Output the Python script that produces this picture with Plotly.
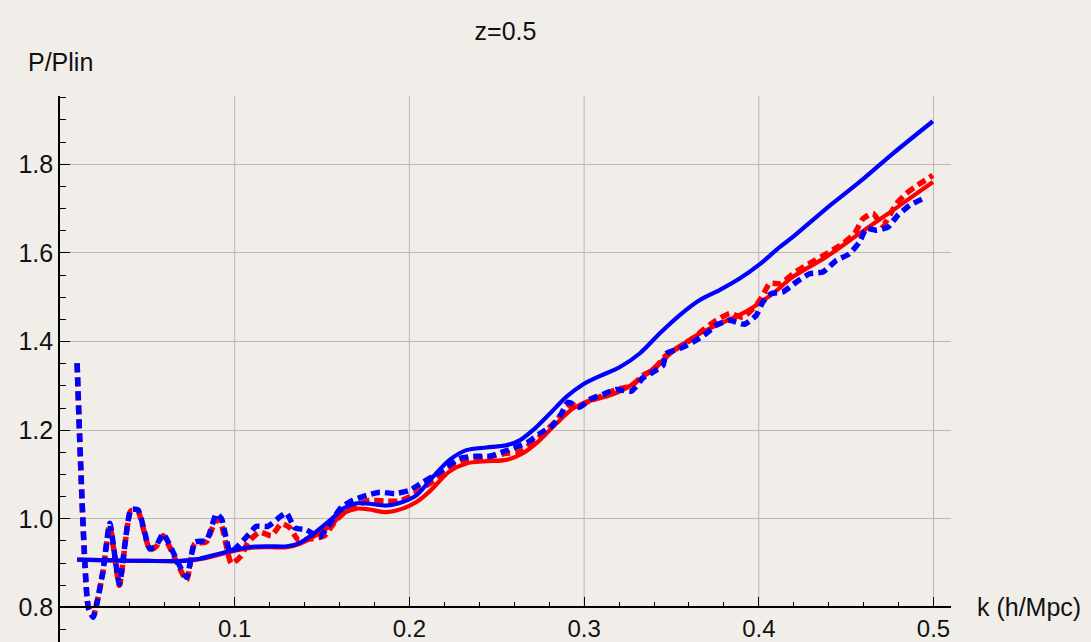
import plotly.graph_objects as go

# ---------------- data ----------------
k_blue_solid = [0.0098, 0.03, 0.05, 0.07, 0.08, 0.09, 0.10, 0.11, 0.12, 0.13, 0.137, 0.145, 0.155, 0.162,
                0.17, 0.177, 0.187, 0.196, 0.204, 0.2135, 0.223, 0.2326, 0.244, 0.2555, 0.2631, 0.2707,
                0.2803, 0.2898, 0.2993, 0.3089, 0.3203, 0.3318, 0.3432, 0.3546, 0.366, 0.3775, 0.389,
                0.4004, 0.4119, 0.4195, 0.4386, 0.4577, 0.4767, 0.4996]
v_blue_solid = [0.908, 0.906, 0.905, 0.905, 0.910, 0.920, 0.930, 0.937, 0.938, 0.938, 0.945, 0.966, 0.998, 1.023,
                1.035, 1.034, 1.030, 1.038, 1.053, 1.095, 1.133, 1.155, 1.161, 1.166, 1.177, 1.200,
                1.237, 1.275, 1.303, 1.322, 1.342, 1.373, 1.418, 1.459, 1.493, 1.516, 1.542,
                1.574, 1.613, 1.636, 1.700, 1.760, 1.824, 1.897]

k_red_solid = [0.0098, 0.03, 0.05, 0.07, 0.08, 0.09, 0.10, 0.11, 0.12, 0.13, 0.137, 0.145, 0.155, 0.162,
               0.17, 0.177, 0.187, 0.196, 0.204, 0.2116, 0.223, 0.2326, 0.244, 0.2555, 0.265, 0.2745,
               0.2841, 0.2936, 0.3031, 0.3127, 0.3203, 0.3337, 0.3451, 0.3546, 0.366, 0.3775, 0.389,
               0.3985, 0.408, 0.4195, 0.4386, 0.4577, 0.4767, 0.4996]
v_red_solid = [0.908, 0.906, 0.905, 0.905, 0.909, 0.918, 0.928, 0.935, 0.936, 0.936, 0.943, 0.959, 0.985, 1.012,
               1.023, 1.021, 1.015, 1.023, 1.038, 1.062, 1.107, 1.125, 1.130, 1.133, 1.148, 1.177,
               1.215, 1.249, 1.266, 1.276, 1.287, 1.320, 1.358, 1.389, 1.418, 1.440, 1.460,
               1.482, 1.508, 1.546, 1.591, 1.644, 1.696, 1.760]

k_blue_dot = [0.0098, 0.0162, 0.019, 0.0245, 0.0285, 0.034, 0.0405, 0.0447, 0.0514, 0.0552, 0.059, 0.0724,
              0.0771, 0.0838, 0.0895, 0.0925, 0.0975, 0.1067, 0.1124, 0.119, 0.1258, 0.1296, 0.1343, 0.141,
              0.1486, 0.1563, 0.161, 0.1677, 0.1754, 0.183, 0.1916, 0.2001, 0.2078, 0.2154, 0.2288, 0.2373,
              0.2459, 0.2535, 0.2612, 0.2678, 0.2745, 0.2821, 0.287, 0.2907, 0.2974, 0.3041, 0.3108, 0.3184,
              0.327, 0.3337, 0.3394, 0.3451, 0.347, 0.3546, 0.3623, 0.3699, 0.3757, 0.3833, 0.3918, 0.3985,
              0.4023, 0.4071, 0.4138, 0.4214, 0.429, 0.4367, 0.4443, 0.4519, 0.4577, 0.4615, 0.4672, 0.4739,
              0.4796, 0.4863, 0.4958]
v_blue_dot = [1.351, 0.800, 0.778, 0.880, 0.990, 0.853, 1.020, 1.020, 0.932, 0.940, 0.966, 0.868,
              0.947, 0.951, 1.011, 1.000, 0.925, 0.959, 0.983, 0.983, 1.004, 1.013, 0.980, 0.975,
              0.959, 1.000, 1.026, 1.042, 1.053, 1.060, 1.057, 1.064, 1.083, 1.100, 1.136, 1.141,
              1.141, 1.151, 1.162, 1.173, 1.192, 1.211, 1.237, 1.263, 1.252, 1.271, 1.281, 1.292,
              1.288, 1.318, 1.331, 1.346, 1.373, 1.384, 1.399, 1.418, 1.437, 1.448, 1.439, 1.459,
              1.489, 1.508, 1.512, 1.534, 1.553, 1.557, 1.583, 1.598, 1.625, 1.655, 1.651, 1.658,
              1.685, 1.707, 1.726]

k_red_dot = [0.0098, 0.0162, 0.019, 0.0245, 0.0285, 0.034, 0.0405, 0.0447, 0.0514, 0.0552, 0.059, 0.0724,
             0.0771, 0.0838, 0.0895, 0.0925, 0.0981, 0.1038, 0.1076, 0.1143, 0.121, 0.1267, 0.1315, 0.1362,
             0.1439, 0.1515, 0.1572, 0.163, 0.1696, 0.1773, 0.1858, 0.1944, 0.202, 0.2087, 0.2154, 0.223,
             0.2326, 0.2459, 0.2555, 0.2631, 0.2765, 0.2841, 0.2917, 0.2974, 0.3041, 0.3108, 0.3184, 0.327,
             0.3337, 0.3394, 0.347, 0.3546, 0.3623, 0.369, 0.3757, 0.3833, 0.3909, 0.3985, 0.4023, 0.4062,
             0.4128, 0.4195, 0.4271, 0.4405, 0.4481, 0.4548, 0.4596, 0.4653, 0.471, 0.4787, 0.4844, 0.491,
             0.4996]
v_red_dot = [1.351, 0.800, 0.780, 0.878, 0.985, 0.850, 1.018, 1.016, 0.930, 0.938, 0.962, 0.862,
             0.944, 0.948, 1.000, 0.985, 0.899, 0.917, 0.947, 0.970, 0.962, 0.989, 0.980, 0.953,
             0.955, 0.962, 0.993, 1.015, 1.030, 1.042, 1.040, 1.040, 1.053, 1.072, 1.090, 1.115,
             1.134, 1.140, 1.148, 1.151, 1.192, 1.222, 1.256, 1.256, 1.268, 1.278, 1.292, 1.300,
             1.324, 1.335, 1.369, 1.388, 1.407, 1.429, 1.448, 1.463, 1.455, 1.482, 1.504, 1.531,
             1.531, 1.553, 1.572, 1.602, 1.621, 1.644, 1.677, 1.689, 1.662, 1.711, 1.734, 1.753,
             1.775]

x_tick_vals = [0.1, 0.2, 0.3, 0.4, 0.5]
x_tick_text = ["0.1", "0.2", "0.3", "0.4", "0.5"]
y_tick_vals = [0.8, 1.0, 1.2, 1.4, 1.6, 1.8]
y_tick_text = ["0.8", "1.0", "1.2", "1.4", "1.6", "1.8"]
x_axis_crossing = 0.8

# ---------------- figure ----------------
W, H = 1091, 642
ML, MR, MT, MB = 60, 140, 96, 0
BG = "#f1eee9"
FONT = "Liberation Sans, Arial, Helvetica, sans-serif"
TXT = "#111111"
DOT = "9px,5px"
GRID = "#bcb9b4"

ph = H - MT - MB
pw = W - ML - MR
px_per_unit = 443.2
y_top = 1.954
y_bot = y_top - ph / px_per_unit
x_range = [0, 0.51]

fig = go.Figure()
# vertical grid lines only above the crossing axis
for xv in x_tick_vals:
    fig.add_shape(type="line", xref="x", yref="y", x0=xv, x1=xv, y0=x_axis_crossing, y1=y_top,
                  line=dict(color=GRID, width=1), layer="below")

fig.add_trace(go.Scatter(x=k_red_solid, y=v_red_solid, mode="lines",
                         line=dict(color="#ff0000", width=4.2, shape="spline", smoothing=0.8)))
fig.add_trace(go.Scatter(x=k_red_dot, y=v_red_dot, mode="lines",
                         line=dict(color="#ff0000", width=5.5, dash=DOT, shape="spline", smoothing=0.5)))
fig.add_trace(go.Scatter(x=k_blue_solid, y=v_blue_solid, mode="lines",
                         line=dict(color="#0000ff", width=4.2, shape="spline", smoothing=0.8)))
fig.add_trace(go.Scatter(x=k_blue_dot, y=v_blue_dot, mode="lines",
                         line=dict(color="#0000ff", width=5.5, dash=DOT, shape="spline", smoothing=0.5)))

cross_paper = (x_axis_crossing - y_bot) / (y_top - y_bot)

fig.update_layout(
    width=W, height=H,
    margin=dict(l=ML, r=MR, t=MT, b=MB, pad=0),
    paper_bgcolor=BG, plot_bgcolor=BG,
    showlegend=False,
    font=dict(family=FONT, size=25, color=TXT),
    title=dict(text="z=0.5", x=0.5, xref="paper", xanchor="center",
               y=1 - 31 / H, yref="container", yanchor="middle",
               font=dict(family=FONT, size=25, color=TXT)),
    xaxis=dict(range=x_range, tickmode="array", tickvals=x_tick_vals, ticktext=x_tick_text,
               anchor="free", position=cross_paper, automargin=False,
               ticks="inside", ticklen=10, tickwidth=1.3, tickcolor="#000000",
               showline=True, linecolor="#000000", linewidth=1.6,
               showgrid=False, zeroline=False, ticklabelstandoff=0,
               minor=dict(tickmode="linear", tick0=0, dtick=0.02, ticks="inside", ticklen=5,
                          tickwidth=1.2, tickcolor="#000000", showgrid=False),
               tickfont=dict(family=FONT, size=24, color=TXT)),
    yaxis=dict(range=[y_bot, y_top], tickmode="array", tickvals=y_tick_vals, ticktext=y_tick_text,
               automargin=False,
               ticks="inside", ticklen=10, tickwidth=1.3, tickcolor="#000000",
               showline=True, linecolor="#000000", linewidth=1.6,
               showgrid=True, gridcolor=GRID, gridwidth=1, zeroline=False,
               minor=dict(tickmode="linear", tick0=0.8, dtick=0.05, ticks="inside", ticklen=6,
                          tickwidth=1.2, tickcolor="#000000", showgrid=False),
               tickfont=dict(family=FONT, size=25, color=TXT)),
)

fig.add_annotation(text="P/Plin", xref="paper", yref="paper", x=(26 - ML) / pw, y=(H - 62) / ph,
                   xanchor="left", yanchor="middle", showarrow=False,
                   font=dict(family=FONT, size=25, color=TXT))
fig.add_annotation(text="k (h/Mpc)", xref="paper", yref="paper", x=(975 - ML) / pw, y=cross_paper,
                   xanchor="left", yanchor="middle", showarrow=False,
                   font=dict(family=FONT, size=25, color=TXT))

fig.write_html("out.html")
